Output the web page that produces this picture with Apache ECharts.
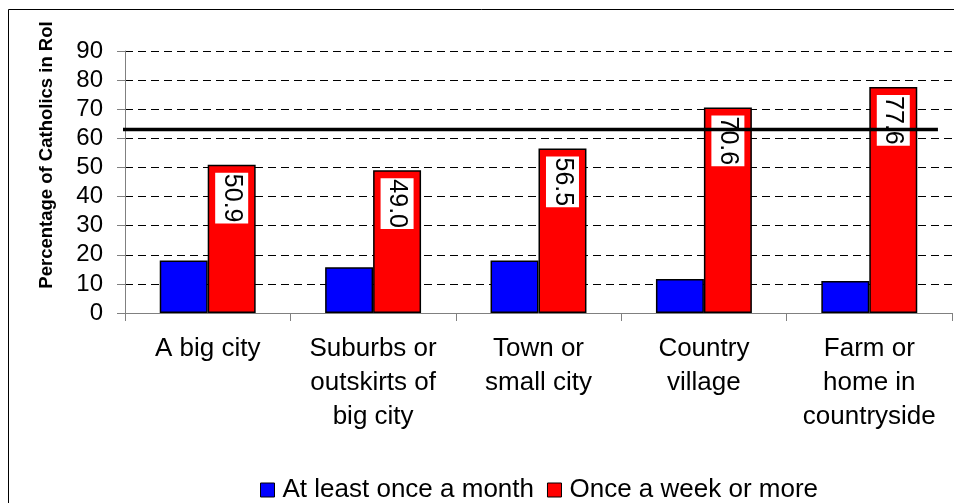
<!DOCTYPE html>
<html>
<head>
<meta charset="utf-8">
<script src="https://cdn.jsdelivr.net/npm/echarts@6/dist/echarts.min.js"></script>
<style>
html,body{margin:0;padding:0;background:#fff;}
#chart{width:954px;height:503px;}
</style>
</head>
<body>
<div id="chart"></div>
<script>
const categories = ["A big city", "Suburbs or\noutskirts of\nbig city", "Town or\nsmall city", "Country\nvillage", "Farm or\nhome in\ncountryside"];
const monthly = [18.0, 15.7, 18.0, 11.7, 11.0];
const weekly = [50.9, 49.0, 56.5, 70.6, 77.6];
const seriesNames = ["At least once a month", "Once a week or more"];
const refLineValue = 63;
const refLineSpan = [-0.003, 0.983];
const yTicks = { min: 0, max: 90, interval: 10 };
const yAxisTitle = "Percentage of Catholics in RoI";

const chart = echarts.init(document.getElementById('chart'), null, { renderer: 'canvas' });
const font = "'Liberation Sans', Arial, sans-serif";

chart.setOption({
  animation: false,
  backgroundColor: '#ffffff',
  textStyle: { fontFamily: font, color: '#000' },
  grid: { left: 125, right: 2, top: 51, bottom: 190, containLabel: false },
  legend: {
    data: seriesNames,
    left: 255,
    top: 472,
    itemWidth: 14,
    itemHeight: 14,
    itemGap: 13,
    icon: 'rect',
    textStyle: { fontSize: 26, color: '#000', fontFamily: font, padding: [0, 0, 0, 3] },
    itemStyle: { borderColor: '#000', borderWidth: 1 }
  },
  xAxis: [{
    type: 'category',
    data: categories,
    boundaryGap: true,
    axisLine: { lineStyle: { color: '#808080', width: 1 } },
    axisTick: { show: true, length: 8, alignWithLabel: false, lineStyle: { color: '#808080' } },
    axisLabel: { fontSize: 26, lineHeight: 34, margin: 19, color: '#000', fontFamily: font, interval: 0 },
    splitLine: { show: false }
  }, {
    type: 'value',
    min: 0,
    max: 1,
    show: false
  }],
  yAxis: [{
    type: 'value',
    min: yTicks.min,
    max: yTicks.max,
    interval: yTicks.interval,
    axisLine: { show: true, lineStyle: { color: '#808080', width: 1 } },
    axisTick: { show: true, length: 8, lineStyle: { color: '#808080' } },
    axisLabel: { fontSize: 24, margin: 22, color: '#000', fontFamily: font },
    splitLine: { show: true, lineStyle: { color: '#000', width: 1, type: [8, 5] } }
  }],
  series: [{
    name: seriesNames[0],
    type: 'bar',
    data: monthly,
    barGap: '0%',
    barCategoryGap: '42%',
    itemStyle: { color: '#0000ff', borderColor: '#000', borderWidth: 1.5 },
    z: 2
  }, {
    name: seriesNames[1],
    type: 'bar',
    data: weekly,
    barGap: '0%',
    barCategoryGap: '42%',
    itemStyle: { color: '#ff0000', borderColor: '#000', borderWidth: 1.5 },
    label: {
      show: true,
      position: 'insideTop',
      distance: 8,
      rotate: -90,
      align: 'left',
      verticalAlign: 'middle',
      fontSize: 25,
      color: '#000',
      fontFamily: font,
      backgroundColor: '#fff',
      padding: [4, 1],
      formatter: p => p.value.toFixed(1)
    },
    z: 2
  }, {
    name: 'ref',
    type: 'line',
    xAxisIndex: 1,
    yAxisIndex: 0,
    data: [[refLineSpan[0], refLineValue], [refLineSpan[1], refLineValue]],
    symbol: 'none',
    clip: false,
    lineStyle: { color: '#000', width: 3.5 },
    z: 10,
    silent: true
  }],
  graphic: [{
    type: 'rect',
    shape: { x: 8.5, y: 9.5, width: 1200, height: 800 },
    style: { fill: 'none', stroke: '#000', lineWidth: 1 },
    silent: true,
    z: -1
  }, {
    type: 'text',
    x: 47,
    y: 155,
    rotation: Math.PI / 2,
    style: {
      text: yAxisTitle,
      font: "bold 18.5px 'Liberation Sans', Arial, sans-serif",
      fill: '#000',
      align: 'center',
      verticalAlign: 'middle'
    }
  }]
});
</script>
</body>
</html>
